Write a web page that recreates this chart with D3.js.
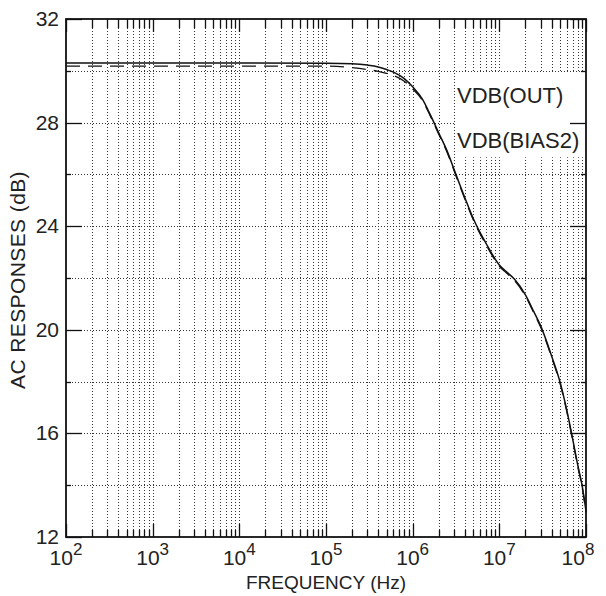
<!DOCTYPE html>
<html>
<head>
<meta charset="utf-8">
<script src="https://cdn.jsdelivr.net/npm/d3@7"></script>
<style>
  body { margin: 0; background: #fff; }
  text { font-family: Arial, "Liberation Sans", sans-serif; fill: #222; }
</style>
</head>
<body>
<div id="chart"></div>
<script>
// AC response plot, two traces vs frequency (log axis)

// frequency points (Hz)
let freqs = [1e2, 1e3, 1e4, 1e5, 2e5, 3e5, 4e5, 5e5, 6e5, 8e5, 1e6, 1.3e6, 1.6e6, 2e6,
  2.5e6, 3e6, 3.5e6, 4e6, 5e6, 6e6, 7e6, 8e6, 1e7, 1.2e7, 1.5e7, 2e7, 2.5e7, 3e7,
  4e7, 5e7, 6e7, 7e7, 8e7, 9e7, 1e8];

// VDB(OUT), solid
let vdbOut = [30.30, 30.30, 30.30, 30.29, 30.27, 30.22, 30.15, 30.05, 29.95, 29.70, 29.38, 28.90, 28.30, 27.60,
  26.90, 26.20, 25.60, 25.10, 24.30, 23.75, 23.35, 23.00, 22.50, 22.25, 21.95, 21.35, 20.70, 20.15,
  19.00, 18.00, 16.90, 15.80, 14.80, 14.00, 13.00];

// VDB(BIAS2), dashed
let vdbBias2 = [30.18, 30.18, 30.18, 30.18, 30.12, 30.05, 29.98, 29.90, 29.82, 29.60, 29.30, 28.85, 28.25, 27.55,
  26.85, 26.15, 25.55, 25.05, 24.25, 23.70, 23.30, 22.95, 22.45, 22.20, 21.90, 21.30, 20.65, 20.10,
  18.95, 17.95, 16.85, 15.75, 14.75, 13.95, 12.95];

let yTicks = [12, 16, 20, 24, 28, 32];
let yMinor = [14, 18, 22, 26, 30];
let decadeExp = [2, 3, 4, 5, 6, 7, 8];

let width = 606, height = 596;
let padLeft = 66, padRight = 586, padTop = 19, padBottom = 537;

let svg = d3.select("#chart").append("svg")
  .attr("width", width).attr("height", height);

let xScale = d3.scaleLog().domain([1e2, 1e8]).range([padLeft, padRight]);
let yScale = d3.scaleLinear().domain([12, 32]).range([padBottom, padTop]);

// grid positions: 1..9 x each decade
let xGrid = [];
decadeExp.slice(0, -1).forEach(function(e) {
  for (let m = 1; m <= 9; m++) xGrid.push(m * Math.pow(10, e));
});
xGrid.push(1e8);

let grid = svg.append("g").attr("class", "grid");
grid.selectAll(".vgrid")
  .data(xGrid.filter(function(d) { return d > 1e2 && d < 1e8; }))
  .enter().append("line")
  .attr("x1", function(d) { return Math.round(xScale(d)) + 0.5; })
  .attr("x2", function(d) { return Math.round(xScale(d)) + 0.5; })
  .attr("y1", padTop).attr("y2", padBottom)
  .style("stroke", "#333").style("stroke-width", 1)
  .style("stroke-dasharray", "1,2");

grid.selectAll(".hgrid")
  .data(yTicks.concat(yMinor).filter(function(d) { return d > 12 && d < 32; }))
  .enter().append("line")
  .attr("x1", padLeft).attr("x2", padRight)
  .attr("y1", function(d) { return Math.round(yScale(d)) + 0.5; })
  .attr("y2", function(d) { return Math.round(yScale(d)) + 0.5; })
  .style("stroke", "#333").style("stroke-width", 1)
  .style("stroke-dasharray", "1,2");

// white box behind the trace labels
svg.append("rect")
  .attr("x", xScale(3e6) + 1.5).attr("y", yScale(30) + 1.5)
  .attr("width", padRight - xScale(3e6) - 3).attr("height", 85)
  .style("fill", "#fff");

// ticks, pointing inward on all four sides
let ticks = svg.append("g").attr("class", "ticks")
  .style("stroke", "#111").style("stroke-width", 1.3);

xGrid.forEach(function(d) {
  let x = Math.round(xScale(d)) + 0.5;
  let isDecade = Math.abs(Math.log10(d) - Math.round(Math.log10(d))) < 1e-9;
  let len = isDecade ? 13 : 7;
  ticks.append("line").attr("x1", x).attr("x2", x).attr("y1", padBottom).attr("y2", padBottom - len);
  ticks.append("line").attr("x1", x).attr("x2", x).attr("y1", padTop).attr("y2", padTop + len + (isDecade ? 0 : 2));
});
yTicks.concat(yMinor).forEach(function(d) {
  let y = Math.round(yScale(d)) + 0.5;
  let len = yTicks.indexOf(d) >= 0 ? 16 : 5;
  ticks.append("line").attr("x1", padLeft).attr("x2", padLeft + len).attr("y1", y).attr("y2", y);
  ticks.append("line").attr("x1", padRight).attr("x2", padRight - len).attr("y1", y).attr("y2", y);
});

// frame
svg.append("rect")
  .attr("x", padLeft).attr("y", padTop)
  .attr("width", padRight - padLeft).attr("height", padBottom - padTop)
  .style("fill", "none").style("stroke", "#111").style("stroke-width", 1.8);

// traces
let line = d3.line()
  .x(function(d) { return xScale(d[0]); })
  .y(function(d) { return yScale(d[1]); })
  .curve(d3.curveMonotoneX);

svg.append("path")
  .datum(freqs.map(function(f, i) { return [f, vdbBias2[i]]; }))
  .attr("d", line)
  .style("fill", "none").style("stroke", "#111").style("stroke-width", 1.3)
  .style("stroke-dasharray", "14,8");

svg.append("path")
  .datum(freqs.map(function(f, i) { return [f, vdbOut[i]]; }))
  .attr("d", line)
  .style("fill", "none").style("stroke", "#111").style("stroke-width", 1.5);

// trace labels
svg.append("text").attr("x", 457).attr("y", 103)
  .style("font-size", "22px").text("VDB(OUT)");
svg.append("text").attr("x", 457).attr("y", 148)
  .style("font-size", "22px").text("VDB(BIAS2)");

// y tick labels
svg.selectAll(".ylabel")
  .data(yTicks)
  .enter().append("text")
  .attr("x", padLeft - 7)
  .attr("y", function(d) { return yScale(d) + 7; })
  .style("text-anchor", "end").style("font-size", "21px")
  .text(function(d) { return d; });

// x tick labels: 10 with superscript exponent
let xl = svg.selectAll(".xlabel")
  .data(decadeExp)
  .enter().append("text")
  .attr("x", function(d) { return Math.min(xScale(Math.pow(10, d)), 578); })
  .attr("y", 565)
  .style("text-anchor", "middle").style("font-size", "21px");
xl.append("tspan").text("10");
xl.append("tspan").attr("dy", -10).style("font-size", "17px")
  .text(function(d) { return d; });

// axis titles
svg.append("text").attr("x", 326).attr("y", 589)
  .style("text-anchor", "middle").style("font-size", "19px")
  .text("FREQUENCY  (Hz)");
svg.append("text")
  .attr("transform", "translate(25," + 280 + ") rotate(-90)")
  .style("text-anchor", "middle").style("font-size", "21px")
  .style("letter-spacing", "0.4px")
  .text("AC RESPONSES  (dB)");
</script>
</body>
</html>
